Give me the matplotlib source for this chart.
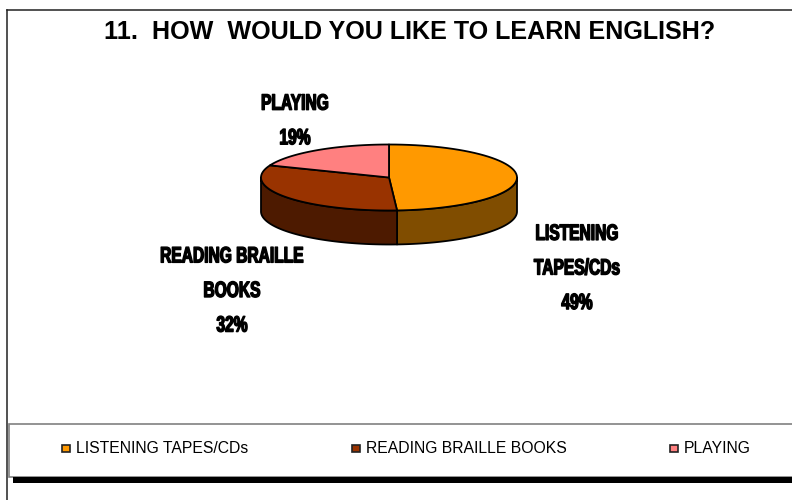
import numpy as np
import matplotlib
matplotlib.use('Agg')
import matplotlib.pyplot as plt
import matplotlib.patheffects as pe
from matplotlib.patches import Polygon, Rectangle
from matplotlib.transforms import Affine2D

categories = ['LISTENING TAPES/CDs', 'READING BRAILLE BOOKS', 'PLAYING']
values = [49, 32, 19]
top_colors = ['#FF9900', '#993300', '#FF8080']
side_colors = ['#804D00', '#4D1A00', '#804040']
slice_labels = ['LISTENING\nTAPES/CDs\n49%', 'READING BRAILLE\nBOOKS\n32%', 'PLAYING\n19%']
label_pos = [(577, 269), (232, 291.5), (295, 121.5)]
legend_x = [62, 352, 670]

cx, cy = 389, 177.5
a, b = 128, 33
depth = 34

fig = plt.figure(figsize=(7.92, 5.0), dpi=100)
ax = fig.add_axes([0, 0, 1, 1])
ax.set_xlim(0, 792)
ax.set_ylim(500, 0)
ax.axis('off')


class Squeeze(pe.AbstractPathEffect):
    # narrows the text about x0 (pixels), the label font is a condensed one
    def __init__(self, x0, sx, lw):
        super().__init__()
        self.x0, self.sx, self.lw = x0, sx, lw

    def draw_path(self, renderer, gc, tpath, affine, rgbFace):
        t = affine + Affine2D().translate(-self.x0, 0).scale(self.sx, 1).translate(self.x0, 0)
        gc0 = renderer.new_gc()
        gc0.copy_properties(gc)
        gc0.set_linewidth(self.lw)
        gc0.set_foreground('black')
        renderer.draw_path(gc0, tpath, t, rgbFace)
        gc0.restore()


def rim(t0, t1, n=60):
    # angles go clockwise from twelve o'clock
    t = np.radians(np.linspace(t0, t1, n))
    return np.column_stack([cx + a * np.sin(t), cy - b * np.cos(t)])


# frame
ax.plot([6.5, 6.5], [10, 500], color='#222222', lw=1.1)
ax.plot([6.5, 792], [10, 10], color='#222222', lw=1.1)

# side walls first, only the front half is visible
start = 0
angles = []
for v in values:
    angles.append((start, start + v * 3.6))
    start += v * 3.6

for (t0, t1), col in zip(angles, side_colors):
    lo, hi = max(t0, 90), min(t1, 270)
    if lo >= hi:
        continue
    edge = rim(lo, hi)
    low = edge[::-1] + [0, depth]
    ax.add_patch(Polygon(np.vstack([edge, low]), closed=True, fc=col, ec='black', lw=1.3, joinstyle='round'))

# top face
for (t0, t1), col in zip(angles, top_colors):
    pts = np.vstack([[cx, cy], rim(t0, t1)])
    ax.add_patch(Polygon(pts, closed=True, fc=col, ec='black', lw=1.3, joinstyle='round'))

# slice labels
for txt, (x, y) in zip(slice_labels, label_pos):
    ax.text(x, y, txt, ha='center', va='center', fontsize=16, fontweight='bold',
            family='Liberation Sans', linespacing=1.85, color='black',
            path_effects=[Squeeze(x, 0.7, 1.0)])

ax.text(409.5, 32, '11.  HOW  WOULD YOU LIKE TO LEARN ENGLISH?', ha='center', va='center',
        fontsize=18.1, fontweight='bold', family='Liberation Sans', color='black')

# legend
ax.add_patch(Rectangle((9, 424), 790, 53, fc='white', ec='#808080', lw=1.2))
ax.add_patch(Rectangle((13, 477), 790, 6, fc='black', ec='none'))
for name, col, x in zip(categories, top_colors, legend_x):
    ax.add_patch(Rectangle((x, 444.5), 7.5, 7.5, fc=col, ec='#222222', lw=1.2))
    ax.text(x + 14, 448.5, name, ha='left', va='center', fontsize=11.3,
            family='Liberation Sans', color='black')

fig.savefig('out.png', dpi=100)
